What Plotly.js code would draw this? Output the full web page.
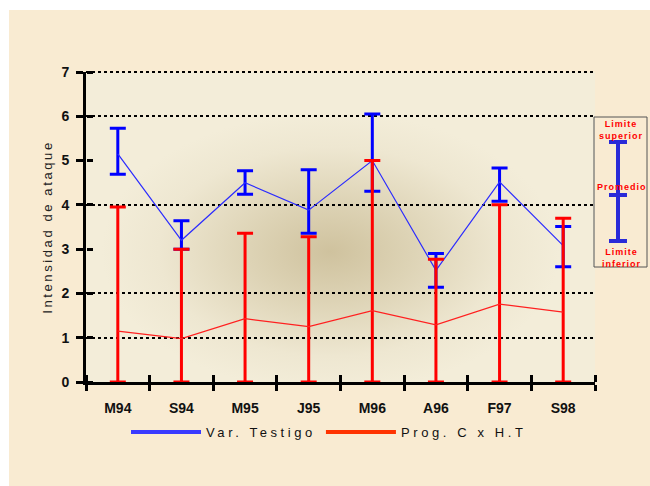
<!DOCTYPE html>
<html>
<head>
<meta charset="utf-8">
<script src="https://cdn.plot.ly/plotly-3.0.1.min.js"></script>
<style>
html,body{margin:0;padding:0;background:#ffffff;overflow:hidden;}
#chart{position:absolute;left:9px;top:10px;width:641px;height:476px;}
.ytitle{letter-spacing:2.6px;}
.legendtext{letter-spacing:3.6px;}
.annotation-text{letter-spacing:1px;}
</style>
</head>
<body>
<div id="chart"></div>
<script>
// ---- data ----
var categories   = ['M94','S94','M95','J95','M96','A96','F97','S98'];
var testigoMean  = [5.15, 3.20, 4.50, 3.88, 5.00, 2.52, 4.52, 3.08];
var testigoUpper = [5.73, 3.64, 4.77, 4.79, 6.05, 2.90, 4.83, 3.51];
var testigoLower = [4.69, 3.00, 4.24, 3.36, 4.31, 2.14, 4.08, 2.60];
var progMean     = [1.15, 0.98, 1.43, 1.25, 1.61, 1.29, 1.76, 1.58];
var progUpper    = [3.95, 3.00, 3.36, 3.28, 5.00, 2.77, 4.00, 3.70];
var progLower    = [0, 0, 0, 0, 0, 0, 0, 0];
var gridValues   = [1, 2, 4, 6, 7];
var yTicks       = [0, 1, 2, 3, 4, 5, 6, 7];
var seriesNames  = ['Var. Testigo', 'Prog. C x H.T'];

function diff(a, b){ return a.map(function(v,i){ return v - b[i]; }); }

// ---- geometry helpers (page pixel -> paper coords) ----
var PL = 86, PR = 595, PT = 72, PB = 382;
function xp(px){ return (px - PL) / (PR - PL); }
function yp(py){ return (PB - py) / (PB - PT); }

var FONT = 'Liberation Sans, Arial, sans-serif';

var traces = [
  {
    type:'scatter', mode:'lines', x:categories, y:testigoMean, name:seriesNames[0],
    showlegend:false, line:{color:'#2b2bff', width:1.2},
    error_y:{type:'data', symmetric:false, array:diff(testigoUpper,testigoMean),
             arrayminus:diff(testigoMean,testigoLower), color:'#0000ff', thickness:3, width:8},
    hoverinfo:'skip'
  },
  {
    type:'scatter', mode:'lines', x:categories, y:progMean, name:seriesNames[1],
    showlegend:false, line:{color:'#ff2020', width:1.2},
    error_y:{type:'data', symmetric:false, array:diff(progUpper,progMean),
             arrayminus:diff(progMean,progLower), color:'#ff0000', thickness:3, width:8},
    hoverinfo:'skip'
  },
  // legend entries (no visible marks) placed on the helper axes so those axes get drawn
  { type:'scatter', mode:'lines', x:[null], y:[null], name:seriesNames[0], showlegend:true,
    xaxis:'x2', yaxis:'y2', line:{color:'#3a3aff', width:4}, hoverinfo:'skip' },
  { type:'scatter', mode:'lines', x:[null], y:[null], name:seriesNames[1], showlegend:true,
    xaxis:'x2', yaxis:'y3', line:{color:'#ff3300', width:4}, hoverinfo:'skip' }
];

// gradient background of the plot area
var svg = "<svg xmlns='http://www.w3.org/2000/svg' width='509' height='310' preserveAspectRatio='none'>" +
  "<defs><radialGradient id='g' cx='0.48' cy='0.58' r='0.45'>" +
  "<stop offset='0' stop-color='#cfc29e'/><stop offset='0.35' stop-color='#ddd3b5'/>" +
  "<stop offset='0.75' stop-color='#eee7d1'/>" +
  "<stop offset='1' stop-color='#f3edd9'/></radialGradient></defs>" +
  "<rect width='509' height='310' fill='#f3edd9'/><rect width='509' height='310' fill='url(#g)'/></svg>";
var bgUri = 'data:image/svg+xml;charset=utf-8,' + encodeURIComponent(svg);

var layout = {
  width:641, height:476,
  margin:{l:PL-9, r:641-(PR-9), t:PT-10, b:476-(PB-10), pad:0},
  paper_bgcolor:'#f9ebd2',
  plot_bgcolor:'rgba(0,0,0,0)',
  showlegend:true,
  legend:{orientation:'h', x:xp(126), y:yp(432), xanchor:'left', yanchor:'middle',
          bgcolor:'rgba(0,0,0,0)', itemwidth:70, tracegroupgap:0,
          font:{family:FONT, size:13, color:'#111'}},
  images:[{source:bgUri, xref:'paper', yref:'paper', x:0, y:1, sizex:1, sizey:1,
           sizing:'stretch', layer:'below', xanchor:'left', yanchor:'top'}],
  xaxis:{type:'category', categoryorder:'array', categoryarray:categories,
         range:[-0.5, 7.5], tickson:'boundaries', ticks:'outside', ticklen:6, tickwidth:3,
         tickcolor:'#000', showline:true, linewidth:3, linecolor:'#000', showgrid:false,
         zeroline:false, ticklabelstandoff:11,
         tickfont:{family:FONT, size:14, color:'#111', weight:'bold'}, fixedrange:true},
  // helper axis: the upward half of the crossing x ticks
  xaxis2:{overlaying:'x', anchor:'free', position:0, side:'top', range:[-0.5, 7.5],
          tick0:-0.5, dtick:1, ticks:'outside', ticklen:7, tickwidth:3, tickcolor:'#000',
          showticklabels:false, showgrid:false, zeroline:false, showline:false},
  yaxis:{range:[0,7], tickvals:yTicks, ticks:'outside', ticklen:7, tickwidth:3, tickcolor:'#000',
         showline:true, linewidth:3, linecolor:'#000', showgrid:false, zeroline:false,
         ticklabelstandoff:4,
         tickfont:{family:FONT, size:14, color:'#111', weight:'bold'},
         title:{text:'Intensidad de ataque', standoff:6,
                font:{family:FONT, size:13, color:'#222'}}, fixedrange:true},
  // helper axis: dotted grid
  yaxis2:{overlaying:'y', anchor:'x2', range:[0,7], tickvals:gridValues, showgrid:true,
          griddash:'dot', gridwidth:2, gridcolor:'#000', showticklabels:false, ticks:'',
          zeroline:false, showline:false},
  // helper axis: the rightward half of the crossing y ticks
  yaxis3:{overlaying:'y', anchor:'free', position:0, side:'right', range:[0,7],
          tickvals:yTicks, ticks:'outside', ticklen:6, tickwidth:3, tickcolor:'#000',
          showticklabels:false, showgrid:false, zeroline:false, showline:false},
  shapes:[
    {type:'line', xref:'paper', yref:'paper', x0:0, x1:1, y0:1, y1:1,
     line:{color:'#000', width:2, dash:'dot'}},
    {type:'rect', xref:'paper', yref:'paper', x0:xp(594), x1:xp(647), y0:yp(267), y1:yp(117),
     line:{color:'#555', width:1}, fillcolor:'rgba(0,0,0,0)'},
    {type:'line', xref:'paper', yref:'paper', x0:xp(618), x1:xp(618), y0:yp(142), y1:yp(241),
     line:{color:'#2a2ad8', width:4}},
    {type:'line', xref:'paper', yref:'paper', x0:xp(609), x1:xp(627), y0:yp(142), y1:yp(142),
     line:{color:'#2a2ad8', width:4}},
    {type:'line', xref:'paper', yref:'paper', x0:xp(609), x1:xp(627), y0:yp(195), y1:yp(195),
     line:{color:'#2a2ad8', width:4}},
    {type:'line', xref:'paper', yref:'paper', x0:xp(609), x1:xp(627), y0:yp(241), y1:yp(241),
     line:{color:'#2a2ad8', width:4}}
  ],
  annotations:[
    {text:'<b>Limite</b><br><b>superior</b>', xref:'paper', yref:'paper', x:xp(621), y:yp(130),
     showarrow:false, xanchor:'center', yanchor:'middle',
     font:{family:FONT, size:9, color:'#ff0000'}},
    {text:'<b>Promedio</b>', xref:'paper', yref:'paper', x:xp(622), y:yp(187),
     showarrow:false, xanchor:'center', yanchor:'middle',
     font:{family:FONT, size:9, color:'#ff0000'}},
    {text:'<b>Limite</b><br><b>inferior</b>', xref:'paper', yref:'paper', x:xp(621), y:yp(258),
     showarrow:false, xanchor:'center', yanchor:'middle',
     font:{family:FONT, size:9, color:'#ff0000'}}
  ]
};

Plotly.newPlot('chart', traces, layout, {displayModeBar:false, staticPlot:true});
</script>
</body>
</html>
